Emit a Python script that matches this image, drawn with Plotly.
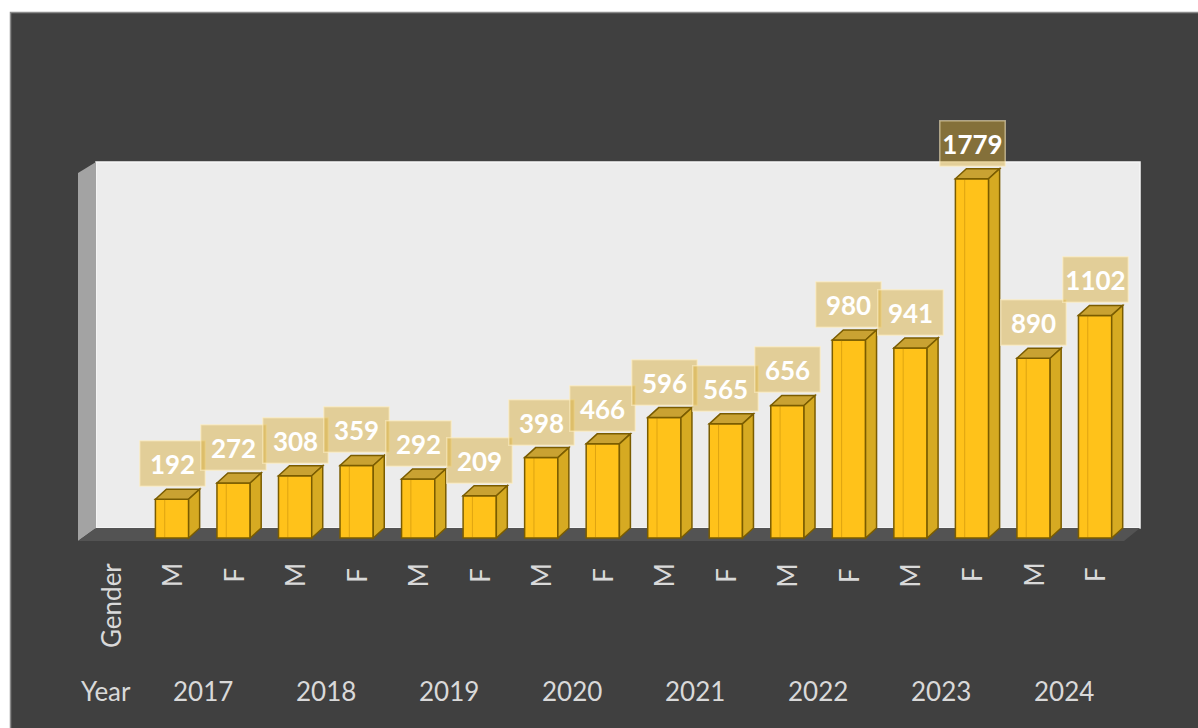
import plotly.graph_objects as go

years = ["2017", "2018", "2019", "2020", "2021", "2022", "2023", "2024"]
genders = ["M", "F"]
counts_m = [192, 308, 292, 398, 596, 656, 941, 890]
counts_f = [272, 359, 209, 466, 565, 980, 1779, 1102]

# flatten into bar order (M, F per year)
cats = []
vals = []
for y, m, f in zip(years, counts_m, counts_f):
    cats.append((y, "M")); vals.append(m)
    cats.append((y, "F")); vals.append(f)
xs = list(range(len(vals)))

W, H = 1198, 728
L, R, T, B = 78, 1140, 150, 540  # plot area in pixels
XMIN, XMAX = -1.528, 15.73
YMIN, YMAX = -10, 1921

def px_x(px):
    return (px - L) / (R - L)

def px_y(py):
    return (B - py) / (B - T)

BG = "#404040"
FRONT = "#FFC21A"
EDGE = "#7A5C00"
TOP = "#C9A232"
SIDE = "#D6AA22"
BARW = 0.54
DX = 11 / ((R - L) / (XMAX - XMIN))
DY = 10 / ((B - T) / (YMAX - YMIN))
FONT = "Lato, Open Sans, sans-serif"
LBL = "#D9D9D9"

fig = go.Figure()
fig.add_trace(go.Bar(
    x=xs, y=vals, width=BARW,
    marker=dict(color=FRONT, line=dict(color=EDGE, width=1.5)),
    hoverinfo="skip",
))

shapes = []
# white page border (top/left)
shapes.append(dict(type="rect", xref="paper", yref="paper",
                   x0=px_x(0), x1=px_x(W), y0=px_y(12), y1=px_y(-5),
                   fillcolor="white", line=dict(width=0), layer="below"))
shapes.append(dict(type="rect", xref="paper", yref="paper",
                   x0=px_x(-5), x1=px_x(10), y0=px_y(H + 5), y1=px_y(-5),
                   fillcolor="white", line=dict(width=0), layer="below"))
shapes.append(dict(type="path", xref="paper", yref="paper",
                   path=f"M {px_x(10.5)} {px_y(H+5)} L {px_x(10.5)} {px_y(12.5)} L {px_x(W+5)} {px_y(12.5)}",
                   line=dict(color="#8a8a8a", width=1.5), layer="below"))
# back wall
shapes.append(dict(type="rect", xref="paper", yref="paper",
                   x0=px_x(96), x1=px_x(1140), y0=px_y(528), y1=px_y(162),
                   fillcolor="#ECECEC", line=dict(color="#F6F6F6", width=1.5), layer="below"))
# left wall
shapes.append(dict(type="path", xref="paper", yref="paper",
                   path=(f"M {px_x(78)} {px_y(173)} L {px_x(96)} {px_y(162)} "
                         f"L {px_x(96)} {px_y(528)} L {px_x(78)} {px_y(541)} Z"),
                   fillcolor="#A3A3A3", line=dict(width=0), layer="below"))
# floor
shapes.append(dict(type="path", xref="paper", yref="paper",
                   path=(f"M {px_x(78)} {px_y(541)} L {px_x(96)} {px_y(528)} "
                         f"L {px_x(1140)} {px_y(528)} L {px_x(1124)} {px_y(541)} Z"),
                   fillcolor="#535353", line=dict(width=0), layer="below"))

# 3D faces of bars (derived from data values)
for x, v in zip(xs, vals):
    xl, xr = x - BARW / 2, x + BARW / 2
    shapes.append(dict(type="path", xref="x", yref="y",
                       path=(f"M {xl} {v} L {xl+DX} {v+DY} L {xr+DX} {v+DY} L {xr} {v} Z"),
                       fillcolor=TOP, line=dict(color=EDGE, width=1.5), layer="above"))
    shapes.append(dict(type="path", xref="x", yref="y",
                       path=(f"M {xr} {0} L {xr+DX} {DY} L {xr+DX} {v+DY} L {xr} {v} Z"),
                       fillcolor=SIDE, line=dict(color=EDGE, width=1.5), layer="above"))
    shapes.append(dict(type="line", xref="x", yref="y",
                       x0=x - BARW * 0.22, x1=x - BARW * 0.22, y0=0, y1=v,
                       line=dict(color="rgba(160,110,0,0.35)", width=1), layer="above"))

annotations = []
# value labels
for x, v in zip(xs, vals):
    annotations.append(dict(
        x=x, y=v, xref="x", yref="y", text=f"<b>{v}</b>", showarrow=False,
        xanchor="center", yanchor="bottom", yshift=12,
        font=dict(family=FONT, size=26, color="white"),
        bgcolor="rgba(215,170,50,0.45)", bordercolor="rgba(255,240,200,0.55)",
        borderwidth=1.5, width=62, height=42,
    ))
# gender labels
for x, (yr, g) in zip(xs, cats):
    annotations.append(dict(
        x=x, y=px_y(575), xref="x", yref="paper", text=g, showarrow=False,
        xanchor="center", yanchor="middle",
        textangle=-90, font=dict(family=FONT, size=26, color=LBL),
    ))
# year labels
for i, yr in enumerate(years):
    annotations.append(dict(
        x=2 * i + 0.5, y=px_y(691), xref="x", yref="paper", text=yr, showarrow=False,
        xanchor="center", yanchor="middle",
        font=dict(family=FONT, size=26, color=LBL),
    ))
annotations.append(dict(x=px_x(111), y=px_y(606), xref="paper", yref="paper", text="Gender",
                        showarrow=False, textangle=-90, xanchor="center", yanchor="middle",
                        font=dict(family=FONT, size=26, color=LBL)))
annotations.append(dict(x=px_x(106), y=px_y(691), xref="paper", yref="paper", text="Year",
                        showarrow=False, xanchor="center", yanchor="middle",
                        font=dict(family=FONT, size=26, color=LBL)))

fig.update_layout(
    width=W, height=H,
    margin=dict(l=L, r=W - R, t=T, b=H - B, pad=0),
    paper_bgcolor=BG, plot_bgcolor="rgba(0,0,0,0)",
    showlegend=False,
    xaxis=dict(range=[XMIN, XMAX], visible=False, fixedrange=True),
    yaxis=dict(range=[YMIN, YMAX], visible=False, fixedrange=True),
    shapes=shapes, annotations=annotations,
)

fig.write_html("out.html", config={"displayModeBar": False})
